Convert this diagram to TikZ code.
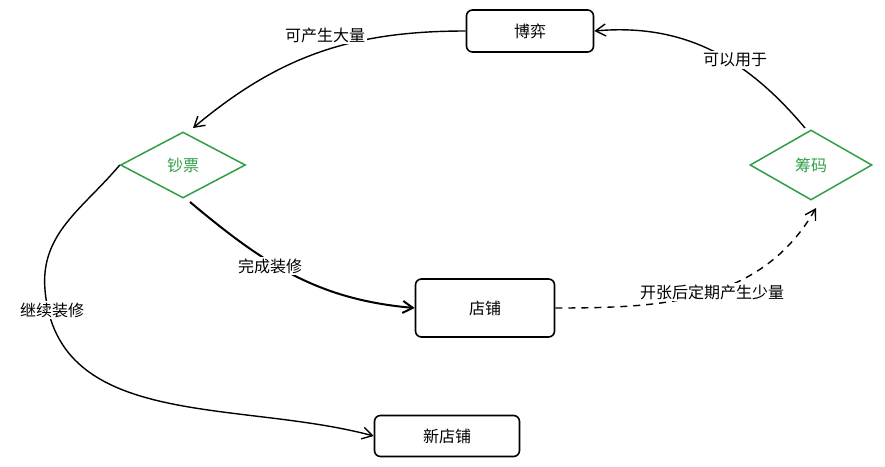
\documentclass[tikz,border=0pt]{standalone}
\usepackage{fontspec}
\setmainfont{Noto Sans CJK SC}
\usetikzlibrary{shapes.geometric,arrows.meta}
\definecolor{gr}{HTML}{2F9E44}
\begin{document}
\begin{tikzpicture}[x=1pt,y=-1pt,font=\fontsize{16}{19}\selectfont,
 box/.style={draw,line width=1.6pt,rounded corners=6pt,align=center},
 dia/.style={diamond,draw=gr,line width=1.5pt,text=gr,aspect=1.9,inner sep=0pt},
 arr/.style={-{Straight Barb[length=10pt,width=12pt]},line width=1.4pt},
 lab/.style={fill=white,inner sep=2pt}]
\path[use as bounding box] (0,0) rectangle (885,466);
\node[box,minimum width=127pt,minimum height=42pt] (boyi) at (530,31) {博弈};
\node[dia,minimum width=125pt,minimum height=66pt] (chao) at (183,165) {钞票};
\node[dia,minimum width=122pt,minimum height=70pt] (chou) at (811,165) {筹码};
\node[box,minimum width=139pt,minimum height=58pt] (dian) at (485,308) {店铺};
\node[box,minimum width=145pt,minimum height=41pt] (xin) at (447,436) {新店铺};
\draw[arr] (boyi.west) to[out=180,in=40] (193,128);
\node[lab] (l1) at (325,35) {可产生大量};
\draw[arr] (805,128) to[out=130,in=5] (boyi.east);
\node[lab] (l2) at (735,60) {可以用于};
\draw[arr,line width=2pt] (190,202) to[out=-40,in=175] (dian.west);
\node[lab] (l3) at (270,266) {完成装修};
\draw[arr,dashed,dash pattern=on 7pt off 6pt] (dian.east) to[out=0,in=-120] (816,208);
\node[lab] (l4) at (712,292) {开张后定期产生少量};
\draw[arr] (chao.west) to[out=-130,in=95] (45,290) to[out=-85,in=165] (xin.west);
\node[lab] (l5) at (52,310) {继续装修};
\end{tikzpicture}
\end{document}
